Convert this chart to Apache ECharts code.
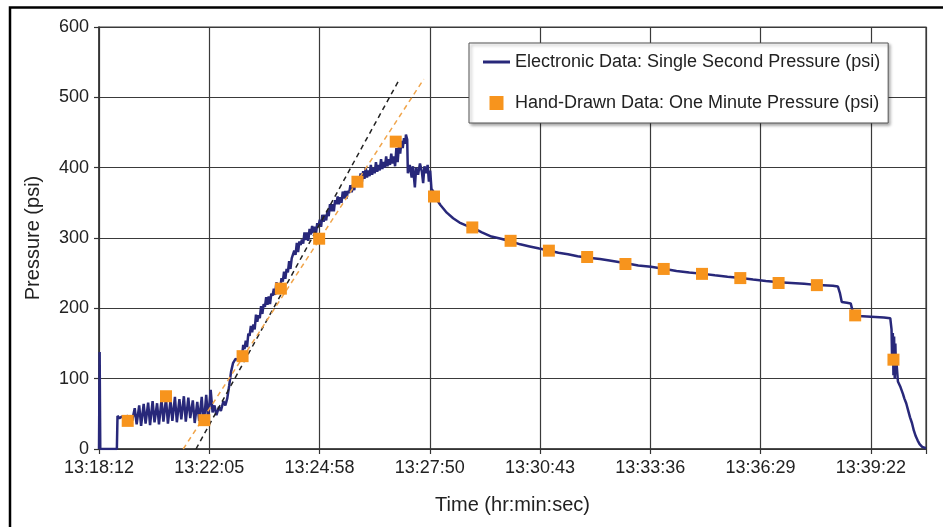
<!DOCTYPE html>
<html><head><meta charset="utf-8">
<script src="https://cdn.jsdelivr.net/npm/echarts/dist/echarts.min.js"></script>
<style>html,body{margin:0;padding:0;background:#fff}#c{width:943px;height:527px}</style>
</head><body><div id="c"></div>
<script>
// x values are seconds after the first axis tick (labelled 13:18:12); axis step 172.8 s
const xTickLabels = ['13:18:12','13:22:05','13:24:58','13:27:50','13:30:43','13:33:36','13:36:29','13:39:22'];
const yTicks = [0,100,200,300,400,500,600];

const elecTime = [0,1,2,28,29,32,36,40,44,48,
52,56,59,63,66,70,73,77,80,84,87,91,94,98,101,105,108,112,115,119,122,126,129,133,136,140,143,147,150,154,157,161,164,168,171,175,
178,181,184,188,191,195,198,201,204,207,210,214,218,
222,224,226,228,230,232,234,236,238,240,242,244,246,248,250,252,254,256,258,260,262,264,266,268,270,272,274,276,278,280,282,284,286,288,290,292,294,296,298,300,302,304,306,308,310,312,314,316,318,320,322,324,326,328,330,332,334,336,338,340,342,344,346,348,350,352,354,356,358,360,362,364,366,368,370,372,374,376,378,380,382,384,386,388,390,392,394,396,398,400,402,404,406,
408,410,412,414,416,418,420,422,424,426,428,430,432,434,436,438,440,442,444,446,448,450,452,454,456,458,460,462,464,466,468,470,472,474,476,478,480,481,483,
484,487,490,492,495,497,500,503,506,508,510,513,515,517,519,521,524,
527,535,545,555,565,575,587,600,615,630,646,660,675,690,706,720,735,750,767,785,800,826,845,865,887,905,925,947,965,985,1006,1025,1045,1066,1085,1105,1127,1150,1158,1161,1164,1172,1178,1181,1184,1190,1210,1230,1240,1242,1243,1244,1245,1246,1247,1248,1249,1250,1252,1254,1256,1258,1260,1262,1265,1268,1271,1274,1277,1280,1283,1286,1290,1296];
const elecPsi = [0,138,0,0,47,44,46,44,47,45,
40,58,35,62,33,64,36,66,34,68,38,65,35,70,39,72,36,69,40,74,38,71,42,75,39,73,44,69,37,67,40,74,33,77,42,84,
52,62,48,60,54,68,62,72,90,110,122,128,127,
138,130,148,142,154,145,164,161,175,166,177,170,191,181,190,186,203,192,206,202,216,205,217,206,221,218,228,219,237,226,234,228,243,238,252,242,256,251,267,256,271,270,282,276,293,280,295,290,298,292,308,297,308,296,313,305,317,307,316,306,321,316,326,316,333,323,333,325,339,331,348,338,348,338,354,348,359,348,358,350,366,356,367,356,367,364,375,365,376,368,383,374,383,
378,392,380,395,384,400,386,396,388,404,390,400,392,408,394,404,396,412,398,408,400,416,402,412,404,420,406,416,402,428,408,430,420,438,428,442,434,447,440,
392,404,386,402,372,400,390,406,394,378,402,392,404,380,396,370,366,
358,347,336,328,322,318,314,308,302,299,295,291,288,285,282,279,277,274,272,270,268,264,261,259,256,253,251,249,247,245,243,241,239,237,236,235,233,232,231,222,209,208,207,196,192,189,188,187,186,170,120,165,105,160,100,150,110,120,96,96,88,86,78,72,65,55,45,37,26,18,12,7,3,1];

const minuteTime = [45,105,165,225,285,345,405,465,525,585,645,705,765,825,885,945,1005,1065,1125,1185,1245];
const minutePsi  = [40,75,41,132,228,299,380,437,359,315,296,282,273,263,256,249,243,236,233,190,127];

const trendBlackTime = [152,471];
const trendBlackPsi  = [0,526];
const trendOrangeTime = [132,509];
const trendOrangePsi  = [0,526];

const FONT = "'Liberation Sans', Arial, Helvetica, sans-serif";
const zip = (a,b) => a.map((v,i) => [v,b[i]]);
const STEP = 172.8;
const ELEC = 'Electronic Data: Single Second Pressure (psi)';
const HAND = 'Hand-Drawn Data: One Minute Pressure (psi)';
const NAVY = '#28287a';
const ORANGE = '#f7941d';
const gridLine = {color:'#3a3a3a', width:1.2};

const chart = echarts.init(document.getElementById('c'), null, {renderer:'canvas'});
chart.setOption({
  animation:false,
  backgroundColor:'#fff',
  graphic:[{type:'rect', shape:{x:10,y:7.5,width:1000,height:1000}, style:{fill:'none',stroke:'#000',lineWidth:2.5}, z:100, silent:true}],
  grid:{left:99,right:17,top:27,bottom:78,show:true,borderColor:'#3a3a3a',borderWidth:1.2,backgroundColor:'#fff'},
  legend:{
    orient:'vertical', left:469, top:43, padding:[9,8,10,14], itemGap:21, itemWidth:27, itemHeight:14,
    backgroundColor:'#fff', borderColor:'#555', borderWidth:1, borderRadius:0,
    shadowColor:'rgba(0,0,0,0.35)', shadowBlur:3, shadowOffsetX:2, shadowOffsetY:2,
    textStyle:{fontSize:18, color:'#222', fontFamily:FONT, lineHeight:20},
    data:[{name:ELEC, icon:'path://M0,0L27,0L27,3L0,3Z', itemStyle:{color:NAVY}},
          {name:HAND, icon:'path://M0,0L10,0L10,10L0,10Z', itemStyle:{color:ORANGE, opacity:1}}]
  },
  xAxis:{
    type:'value', min:0, max:1296, interval:STEP,
    name:'Time (hr:min:sec)', nameLocation:'middle', nameGap:46,
    nameTextStyle:{fontSize:20, color:'#222', fontFamily:FONT},
    axisLine:{show:true, lineStyle:{color:'#333', width:1.5}},
    axisTick:{show:true, length:5, lineStyle:{color:'#333', width:1.2}},
    splitLine:{show:true, lineStyle:gridLine},
    axisLabel:{fontSize:18, color:'#222', fontFamily:FONT, margin:10,
      formatter:v => { const i = Math.round(v/STEP); return (Math.abs(v-i*STEP) < 0.5 && i < xTickLabels.length) ? xTickLabels[i] : ''; }}
  },
  yAxis:{
    type:'value', min:yTicks[0], max:yTicks[yTicks.length-1], interval:100,
    name:'Pressure (psi)', nameLocation:'middle', nameGap:56,
    nameTextStyle:{fontSize:20, color:'#222', fontFamily:FONT},
    axisLine:{show:true, lineStyle:{color:'#333', width:1.5}},
    axisTick:{show:true, length:5, lineStyle:{color:'#333', width:1.2}},
    splitLine:{show:true, lineStyle:gridLine},
    axisLabel:{fontSize:18, color:'#222', fontFamily:FONT, margin:10}
  },
  series:[
    {name:ELEC, type:'line', data:zip(elecTime,elecPsi), showSymbol:false, symbol:'none',
     color:NAVY, lineStyle:{color:NAVY, width:2.5}, z:2},
    {name:'trendBlack', type:'line', data:zip(trendBlackTime,trendBlackPsi), symbol:'none', silent:true,
     lineStyle:{color:'#222', width:1.5, type:[5,4]}, z:3},
    {name:'trendOrange', type:'line', data:zip(trendOrangeTime,trendOrangePsi), symbol:'none', silent:true,
     lineStyle:{color:'#f0a54c', width:1.5, type:[5,4]}, z:3},
    {name:HAND, type:'scatter', data:zip(minuteTime,minutePsi), symbol:'rect', symbolSize:12,
     color:ORANGE, itemStyle:{color:ORANGE, opacity:1}, z:4}
  ]
});
</script>
</body></html>
